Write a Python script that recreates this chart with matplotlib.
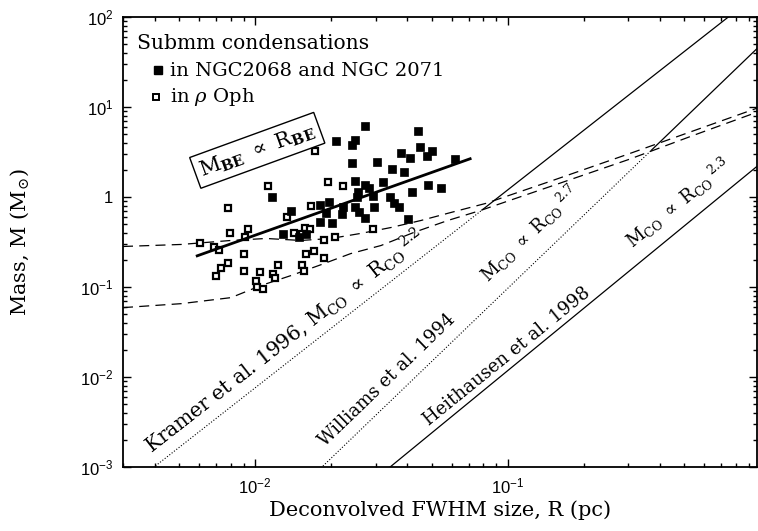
import matplotlib.pyplot as plt

plt.rcParams['font.family'] = ['DejaVu Serif']
plt.rcParams['mathtext.fontset'] = 'dejavuserif'

# submm condensations in NGC2068 and NGC2071 : size R (pc), mass M (Msun)
ngc_r = [0.0272, 0.0209, 0.0248, 0.0241, 0.0441, 0.0449, 0.0501, 0.0479, 0.0378, 0.0410,
         0.0618, 0.0241, 0.0303, 0.0348, 0.0388, 0.0248, 0.0272, 0.0321, 0.0483, 0.0543,
         0.0418, 0.0255, 0.0282, 0.0253, 0.0292, 0.0342, 0.0354, 0.0295, 0.0371, 0.0196,
         0.0181, 0.0223, 0.0248, 0.0191, 0.0221, 0.0258, 0.0272, 0.0403, 0.0181, 0.0201,
         0.01387, 0.0129, 0.01167, 0.0159, 0.0149]
ngc_m = [6.11, 4.16, 4.27, 3.76, 5.38, 3.57, 3.22, 2.83, 3.06, 2.69,
         2.62, 2.37, 2.43, 2.03, 1.88, 1.49, 1.35, 1.45, 1.35, 1.25,
         1.15, 1.15, 1.25, 0.99, 1.02, 0.99, 0.85, 0.766, 0.766, 0.871,
         0.805, 0.766, 0.766, 0.656, 0.640, 0.673, 0.578, 0.563, 0.521, 0.508,
         0.692, 0.384, 0.99, 0.384, 0.364]

# submm condensations in rho Oph
oph_r = [0.01726, 0.01125, 0.01945, 0.0223, 0.00782, 0.01663, 0.01337, 0.00797, 0.00938, 0.00912,
         0.01425, 0.01577, 0.01647, 0.01535, 0.00607, 0.00689, 0.00722, 0.01875, 0.0207, 0.0292,
         0.00906, 0.00782, 0.00734, 0.00702, 0.00906, 0.01047, 0.01233, 0.01178, 0.0120, 0.0101,
         0.0102, 0.01076, 0.01535, 0.01563, 0.0171, 0.0159, 0.01875]
oph_m = [3.22, 1.31, 1.45, 1.31, 0.746, 0.785, 0.593, 0.394, 0.436, 0.355,
         0.394, 0.458, 0.436, 0.384, 0.312, 0.275, 0.261, 0.329, 0.355, 0.436,
         0.235, 0.187, 0.164, 0.131, 0.152, 0.145, 0.177, 0.141, 0.127, 0.118,
         0.101, 0.096, 0.177, 0.152, 0.254, 0.235, 0.212]

# M_BE ~ R_BE fit line
fit_r = [0.0059, 0.071]
fit_m = [0.222, 2.66]

# Bonnor-Ebert critical mass curves (dashed)
be1_r = [0.003, 0.0051, 0.00803, 0.01105, 0.0152, 0.01995, 0.0262, 0.0345, 0.0453, 0.0596,
         0.0819, 0.15, 0.3, 0.55, 0.97]
be1_m = [0.282, 0.297, 0.329, 0.346, 0.329, 0.346, 0.394, 0.458, 0.548, 0.673,
         0.849, 1.52, 3.0, 5.5, 9.7]
be2_r = [0.003, 0.0051, 0.00803, 0.01057, 0.01387, 0.01824, 0.0239, 0.0315, 0.0425, 0.058,
         0.0782, 0.15, 0.3, 0.55, 0.97]
be2_m = [0.059, 0.0653, 0.0762, 0.104, 0.134, 0.177, 0.235, 0.289, 0.404, 0.549,
         0.710, 1.33, 2.6, 4.9, 8.75]

# CO clump mass-size relations: start, change dotted->solid, end
kramer_r = [0.003, 0.08, 1.0]
kramer_m = [5.36e-4, 0.734, 190.0]
williams_r = [0.015, 0.37, 1.0]
williams_m = [5.77e-4, 3.30, 48.4]
heith_r = [0.03, 1.0]
heith_m = [7.38e-4, 2.35]

xticks = [1e-2, 1e-1]
xticklabels = [r'$\mathregular{10^{-2}}$', r'$\mathregular{10^{-1}}$']
yticks = [1e-3, 1e-2, 1e-1, 1, 1e1, 1e2]
yticklabels = [r'$\mathregular{10^{-3}}$', r'$\mathregular{10^{-2}}$', r'$\mathregular{10^{-1}}$',
               '1', r'$\mathregular{10^{1}}$', r'$\mathregular{10^{2}}$']

fig = plt.figure(figsize=(7.58, 5.31), dpi=100)
ax = fig.add_axes([123/758, 64/531, 634/758, 450/531])
ax.set_xscale('log')
ax.set_yscale('log')
ax.set_xlim(0.003, 0.97)
ax.set_ylim(1e-3, 1e2)

# power laws
ax.plot(kramer_r[:2], kramer_m[:2], color='k', ls=':', lw=0.8)
ax.plot(kramer_r[1:], kramer_m[1:], color='k', ls='-', lw=0.9)
ax.plot(williams_r[:2], williams_m[:2], color='k', ls=':', lw=0.8)
ax.plot(williams_r[1:], williams_m[1:], color='k', ls='-', lw=0.9)
ax.plot(heith_r, heith_m, color='k', ls='-', lw=0.9)

# BE curves
ax.plot(be1_r, be1_m, color='k', lw=0.9, dashes=(8, 5))
ax.plot(be2_r, be2_m, color='k', lw=0.9, dashes=(8, 5))

# data
ax.plot(oph_r, oph_m, 's', ms=5, mfc='white', mec='k', mew=1.6, ls='none')
ax.plot(ngc_r, ngc_m, 's', ms=5.5, mfc='k', mec='k', mew=0.5, ls='none')
ax.plot(fit_r, fit_m, color='k', lw=2)

# legend
ax.text(0.022, 0.929, 'Submm condensations', transform=ax.transAxes, fontsize=14.6, va='baseline')
ax.plot([0.0552], [0.882], 's', ms=5.5, color='k', transform=ax.transAxes, clip_on=False)
ax.text(0.074, 0.869, 'in NGC2068 and NGC 2071', transform=ax.transAxes, fontsize=14, va='baseline')
ax.plot([0.052], [0.822], 's', ms=5, mfc='white', mec='k', mew=1.4, transform=ax.transAxes)
ax.text(0.074, 0.811, r'in $\rho$ Oph', transform=ax.transAxes, fontsize=14, va='baseline')

ax.text(0.0102, 3.3, r'M$_{\mathbf{BE}}$ $\propto$ R$_{\mathbf{BE}}$', fontsize=15,
        rotation=20, ha='center', va='center', rotation_mode='anchor',
        bbox=dict(boxstyle='square,pad=0.25', fc='white', ec='k', lw=1))

# relation labels
ax.text(0.00388, 0.00143, r'Kramer et al. 1996, M$_{\rm CO}$ $\propto$ R$_{\rm CO}$$^{\ 2.2}$',
        fontsize=14.5, rotation=38, rotation_mode='anchor', ha='left', va='baseline')
ax.text(0.01892, 0.00167, 'Williams et al. 1994', fontsize=13, rotation=44,
        rotation_mode='anchor', ha='left', va='baseline')
ax.text(0.0841, 0.109, r'M$_{\rm CO}$ $\propto$ R$_{\rm CO}$$^{\ 2.7}$', fontsize=13, rotation=44,
        rotation_mode='anchor', ha='left', va='baseline')
ax.text(0.0488, 0.00286, 'Heithausen et al. 1998', fontsize=13, rotation=39,
        rotation_mode='anchor', ha='left', va='baseline')
ax.text(0.312, 0.268, r'M$_{\rm CO}$ $\propto$ R$_{\rm CO}$$^{\ 2.3}$', fontsize=13, rotation=39,
        rotation_mode='anchor', ha='left', va='baseline')

ax.set_xticks(xticks, labels=xticklabels)
ax.set_yticks(yticks, labels=yticklabels)
ax.xaxis.set_minor_formatter(plt.NullFormatter())
ax.yaxis.set_minor_formatter(plt.NullFormatter())
ax.tick_params(which='both', direction='in', top=True, right=True, width=1,
               labelsize=12, labelfontfamily='Liberation Sans')
ax.tick_params(which='major', length=6, pad=7)
ax.tick_params(which='minor', length=3.2)
for s in ax.spines.values():
    s.set_linewidth(1.3)

ax.set_xlabel('Deconvolved FWHM size, R (pc)', fontsize=15)
ax.set_ylabel(r'Mass, M (M$_{\odot}$)', fontsize=15)
ax.xaxis.set_label_coords(0.5, -0.073)
ax.yaxis.set_label_coords(-0.145, 0.5)

fig.savefig('out.png', dpi=100)
